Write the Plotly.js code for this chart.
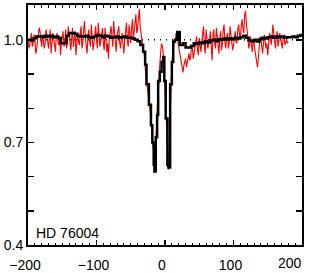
<!DOCTYPE html>
<html>
<head>
<meta charset="utf-8">
<script src="https://cdn.plot.ly/plotly-3.0.1.min.js"></script>
<style>html,body{margin:0;padding:0;background:#fff;}#chart{width:311px;height:273px;}</style>
</head>
<body>
<div id="chart"></div>
<script>
// Observed profile (red): velocity grid start/step and flux values
var redStart = -200, redStep = 1.25;
var redFlux = [
  1.00, 0.975, 0.985, 1.01, 1.02, 0.98, 0.99, 1.015, 1.005, 0.96, 0.97, 0.995, 1.01, 1.035, 1.025, 0.99, 0.98, 1.015, 1.00, 0.975,
  0.99, 1.03, 1.015, 0.985, 0.975, 1.005, 1.03, 0.96, 0.995, 1.02, 1.005, 0.975, 0.965, 1.01, 1.02, 0.995, 0.985, 1.005, 0.955, 0.99,
  1.01, 1.025, 0.98, 0.995, 1.03, 0.975, 0.99, 1.04, 1.015, 0.985, 0.97, 1.005, 1.035, 0.98, 1.00, 1.025, 0.955, 0.985, 1.02, 0.995,
  0.985, 1.02, 1.04, 0.975, 0.99, 1.03, 1.055, 1.005, 0.975, 0.96, 1.01, 1.03, 0.995, 0.98, 1.045, 1.015, 0.97, 0.99, 1.02, 1.04,
  1.00, 0.975, 1.05, 1.01, 0.98, 0.995, 1.015, 1.035, 0.99, 0.97, 1.035, 1.005, 0.965, 0.99, 0.945, 1.01, 1.02, 1.04, 1.00, 0.98,
  1.055, 1.015, 0.985, 0.965, 1.01, 1.03, 1.04, 0.995, 0.975, 1.005, 1.02, 0.985, 0.96, 1.00, 1.03, 1.05, 1.00, 0.98, 1.045, 1.015,
  0.99, 1.035, 1.06, 1.00, 1.02, 1.05, 1.075, 1.02, 1.03, 1.065, 1.09, 1.04, 1.01, 1.00, 0.985, 0.97, 0.95, 0.915, 0.88, 0.865,
  0.85, 0.83, 0.80, 0.78, 0.76, 0.72, 0.68, 0.66, 0.655, 0.69, 0.74, 0.80, 0.86, 0.90, 0.93, 0.965, 0.99, 0.98, 0.96, 0.91,
  0.85, 0.78, 0.72, 0.66, 0.62, 0.70, 0.80, 0.87, 0.93, 0.96, 0.98, 1.00, 1.00, 1.02, 1.01, 0.995, 0.985, 0.965, 0.95, 0.93,
  0.92, 0.905, 0.925, 0.94, 0.945, 0.92, 0.935, 0.955, 0.96, 0.94, 0.95, 0.985, 0.975, 0.945, 0.96, 0.98, 0.99, 1.01, 0.97, 0.955,
  1.005, 0.98, 0.965, 0.995, 1.02, 1.04, 0.98, 0.96, 1.03, 1.005, 0.975, 0.99, 1.00, 1.025, 0.955, 0.94, 1.015, 1.03, 0.99, 0.975,
  1.035, 1.01, 0.98, 0.96, 1.005, 1.025, 0.97, 0.99, 1.03, 1.045, 0.99, 0.975, 1.01, 1.02, 0.975, 0.99, 1.04, 1.015, 1.00, 0.97,
  0.985, 1.01, 1.025, 0.995, 0.99, 1.03, 1.045, 1.015, 1.005, 1.04, 1.06, 1.035, 1.02, 1.07, 1.085, 1.05, 1.03, 0.995, 0.975, 0.99,
  1.01, 0.985, 0.965, 1.00, 0.99, 0.97, 0.95, 0.935, 0.92, 0.945, 0.975, 1.01, 1.00, 0.975, 0.96, 0.99, 1.015, 0.995, 0.975, 0.99,
  0.955, 0.985, 1.02, 1.005, 0.985, 1.01, 1.045, 1.02, 0.99, 0.975, 1.01, 1.025, 0.98, 0.995, 1.02, 1.005, 0.99, 0.975, 1.005, 1.015,
  0.985, 0.995, 1.00, 0.99, 0.995
];

// Model profile (black)
var blackV = [-200,-196,-192,-188,-184,-180,-176,-172,-168,-164,-160,-156,-152,-148,-144,-140,-136,-132,-128,-124,
  -120,-116,-112,-108,-104,-100,-96,-92,-88,-84,-80,-76,-72,-68,-64,-60,-56,-52,-48,-44,-40,-36,
  -32,-29,-27,-23.5,-20.5,-18.5,-16.5,-15.5,-13.5,-11.5,-10,-7.5,-5,-2.5,-1,1,3.5,5,7.5,10,12,14.5,18,21.5,
  26,30,34,38,42,46,50,54,58,62,66,70,74,78,82,86,90,94,98,102,106,110,114,118,122,126,130,134,138,142,
  146,150,154,158,162,166,170,174,178,182,186,190,194,198,200];
var blackF = [1.000,0.998,1.005,1.010,1.010,1.008,1.012,1.010,1.012,1.008,1.010,1.006,0.990,0.990,1.012,1.020,1.020,1.018,1.012,1.010,
  1.010,1.012,1.008,1.006,1.010,1.014,1.012,1.008,1.012,1.010,1.006,1.008,1.010,1.006,1.008,1.010,1.006,1.006,1.004,1.000,0.996,0.985,
  0.965,0.927,0.870,0.810,0.750,0.700,0.635,0.615,0.715,0.780,0.880,0.907,0.935,0.950,0.880,0.770,0.635,0.627,0.870,0.935,0.995,1.000,1.023,0.985,
  0.990,0.978,0.978,0.982,0.990,0.988,0.992,0.990,0.995,0.992,0.998,1.000,0.996,1.002,1.000,1.004,1.000,1.005,1.002,1.006,1.004,1.008,1.012,1.006,0.998,0.996,1.000,0.995,1.002,1.006,
  1.004,1.008,1.010,1.006,1.010,1.008,1.010,1.006,1.008,1.008,1.010,1.008,1.012,1.014,1.015];

var xTickVals = [-200, -100, 0, 100, 200];
var xTickText = ["\u2212200", "\u2212100", "0", "100", ""];
var xLastTick = 200, xLastLabel = "200";
var yTickVals = [0.4, 0.7, 1.0];
var yTickText = ["0.4", "0.7", "1.0"];
var starLabel = "HD 76004";

var redV = redFlux.map(function(_, i){ return redStart + i*redStep; });

var font = {family: "Liberation Sans, Arial, sans-serif", size: 14, color: "#000"};

var traces = [
  {x: redV, y: redFlux, type: "scatter", mode: "lines",
   line: {color: "#ff0000", width: 1.1}, hoverinfo: "skip"},
  {x: blackV, y: blackF, type: "scatter", mode: "lines",
   line: {color: "#000000", width: 2.5, shape: "hv"}, hoverinfo: "skip"}
];

var layout = {
  width: 311, height: 273,
  margin: {l: 28, r: 9, t: 5, b: 28, pad: 0},
  paper_bgcolor: "#fff", plot_bgcolor: "#fff",
  showlegend: false,
  font: font,
  xaxis: {
    range: [-200, 200], showgrid: false, zeroline: false,
    showline: true, linecolor: "#000", linewidth: 2, mirror: "allticks",
    ticks: "inside", ticklen: 5, tickwidth: 1.5, tickcolor: "#000",
    tickvals: xTickVals, ticktext: xTickText, tickfont: font,
    ticklabelshift: -3, ticklabelstandoff: 6,
    minor: {dtick: 10, ticks: "inside", ticklen: 2.5, tickwidth: 1, tickcolor: "#000", showgrid: false}
  },
  yaxis: {
    range: [0.4, 1.102], showgrid: false, zeroline: false,
    showline: true, linecolor: "#000", linewidth: 2, mirror: "allticks",
    ticks: "inside", ticklen: 6, tickwidth: 1.5, tickcolor: "#000",
    tickvals: yTickVals, ticktext: yTickText, tickfont: font,
    minor: {dtick: 0.1, ticks: "inside", ticklen: 6, tickwidth: 1.5, tickcolor: "#000", showgrid: false}
  },
  shapes: [{type: "line", xref: "paper", yref: "y", x0: 0, x1: 1, y0: 1.0, y1: 1.0,
            line: {color: "#000", width: 1.5, dash: "1px,5px"}, layer: "below"}],
  annotations: [
    {text: starLabel, xref: "paper", yref: "paper", x: 0.022, y: 0.01,
     xanchor: "left", yanchor: "bottom", showarrow: false, font: font},
    {text: xLastLabel, xref: "x", yref: "paper", x: xLastTick, y: 0,
     xanchor: "right", yanchor: "top", xshift: 2, yshift: -8, showarrow: false, font: font}
  ]
};

Plotly.newPlot("chart", traces, layout, {staticPlot: true, displayModeBar: false});
</script>
</body>
</html>
